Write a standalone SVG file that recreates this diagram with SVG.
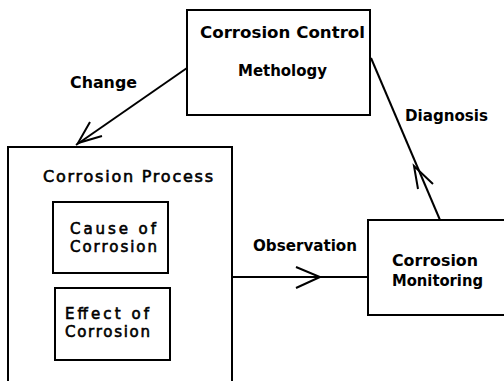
<svg xmlns="http://www.w3.org/2000/svg" width="504" height="381" viewBox="0 0 504 381">
<style>
.box{fill:#fff;stroke:#000;stroke-width:2}
.t{font-family:"DejaVu Sans","Liberation Sans",sans-serif;font-size:16px;font-weight:bold;fill:#000}
.tl{font-family:"DejaVu Sans","Liberation Sans",sans-serif;font-size:16px;font-weight:normal;fill:#000;stroke:#000;stroke-width:0.6}
.ts{font-size:15px}
.ln{fill:none;stroke:#000;stroke-width:2}
</style>
<rect width="504" height="381" fill="#fff"/>
<g id="methodology">
<rect class="box" x="187" y="10" width="183" height="105"/>
<text class="t" x="200" y="38" textLength="165" lengthAdjust="spacingAndGlyphs">Corrosion Control</text>
<text class="t" x="238" y="76" textLength="89" lengthAdjust="spacingAndGlyphs">Methology</text>
</g>
<g id="process">
<rect class="box" x="8" y="147" width="224" height="240"/>
<text class="tl" x="43" y="182" textLength="170" lengthAdjust="spacing">Corrosion Process</text>
</g>
<g id="cause">
<rect class="box" x="53" y="202" width="115" height="71"/>
<text class="tl ts" x="70" y="234" textLength="86" lengthAdjust="spacing">Cause of</text>
<text class="tl ts" x="70" y="252" textLength="87" lengthAdjust="spacing">Corrosion</text>
</g>
<g id="effect">
<rect class="box" x="55" y="288" width="115" height="72"/>
<text class="tl ts" x="65" y="319" textLength="84" lengthAdjust="spacing">Effect of</text>
<text class="tl ts" x="65" y="337" textLength="85" lengthAdjust="spacing">Corrosion</text>
</g>
<g id="monitoring">
<rect class="box" x="368" y="220" width="140" height="95"/>
<text class="t" x="392" y="266" textLength="86" lengthAdjust="spacingAndGlyphs">Corrosion</text>
<text class="t" x="392" y="286" textLength="91" lengthAdjust="spacingAndGlyphs">Monitoring</text>
</g>
<g id="connectors">
<line class="ln" x1="187" y1="68" x2="76" y2="145"/>
<polyline class="ln" points="90,122 78,143 102,136"/>
<line class="ln" x1="232" y1="277" x2="368" y2="277"/>
<polyline class="ln" points="296,267 320,277 296,288"/>
<line class="ln" x1="440" y1="220" x2="371" y2="58"/>
<polyline class="ln" points="418,189 414,166 433,184"/>
<text class="t" x="70" y="88" textLength="67" lengthAdjust="spacingAndGlyphs">Change</text>
<text class="t" x="253" y="251" textLength="104" lengthAdjust="spacingAndGlyphs">Observation</text>
<text class="t" x="405" y="121" textLength="83" lengthAdjust="spacingAndGlyphs">Diagnosis</text>
</g>
</svg>
